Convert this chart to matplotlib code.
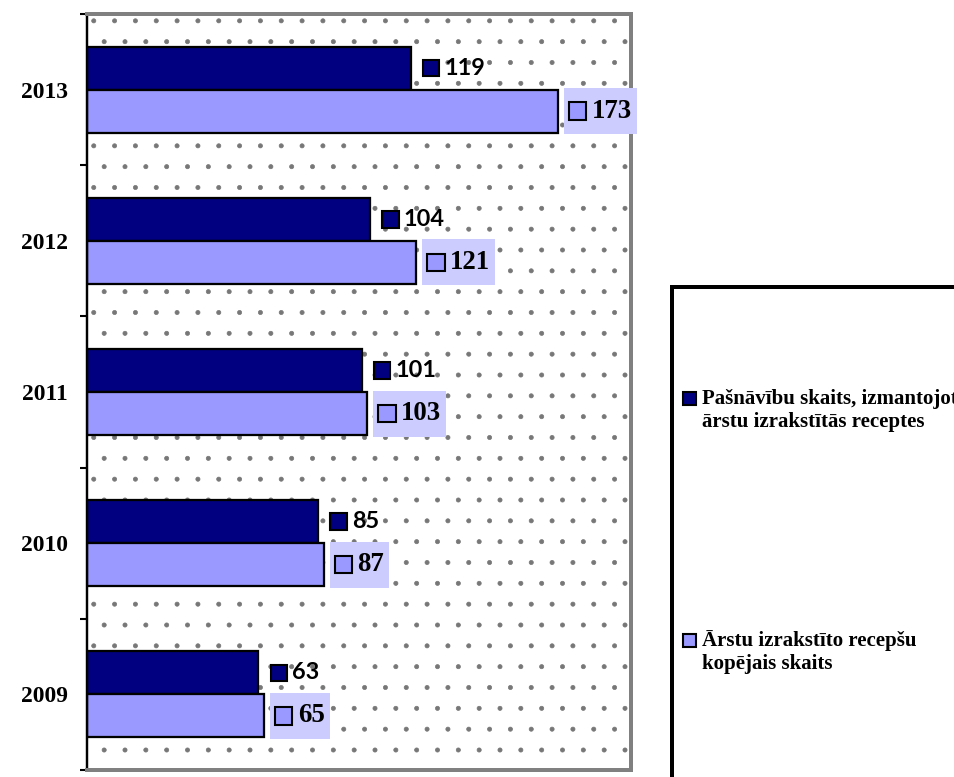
import numpy as np
import matplotlib
matplotlib.use('Agg')
import matplotlib.pyplot as plt
from matplotlib.patches import Rectangle
from matplotlib.offsetbox import AnnotationBbox, HPacker, TextArea, DrawingArea

# dati
years = ['2009', '2010', '2011', '2012', '2013']
pasnavibas = [63, 85, 101, 104, 119]      # Pašnāvību skaits, izmantojot ārstu izrakstītās receptes
receptes = [65, 87, 103, 121, 173]        # Ārstu izrakstīto recepšu kopējais skaits
series_names = ['Pašnāvību skaits, izmantojot\nārstu izrakstītās receptes',
                'Ārstu izrakstīto recepšu\nkopējais skaits']

dark = '#000080'
light = '#9999FF'
box_bg = '#CCCCFF'
serif = 'Liberation Serif'
sans = 'Lato'

plt.rcParams['hatch.linewidth'] = 0.4

DPI = 125
W, H = 954, 777
fig = plt.figure(figsize=(W / DPI, H / DPI), dpi=DPI)
fig.patch.set_facecolor('white')
ax = fig.add_axes([87 / W, 7 / H, 544 / W, 756 / H])

# punktētais fons
ax.add_patch(Rectangle((0, 0), 1, 1, transform=ax.transAxes, facecolor='white',
                       edgecolor='#777777', lw=0, hatch='.', zorder=0))

y = np.arange(len(years))
h = 0.285
ax.barh(y + h / 2, pasnavibas, height=h, color=dark, edgecolor='black', linewidth=1.3, zorder=2)
ax.barh(y - h / 2, receptes, height=h, color=light, edgecolor='black', linewidth=1.3, zorder=2)

ax.set_xlim(0, 200)
ax.set_ylim(-0.5, len(years) - 0.5)
ax.set_xticks([])
ax.set_yticks(y)
ax.set_yticklabels(years, fontfamily=serif, fontweight='bold', fontsize=13.5)
ax.set_yticks(np.arange(-0.5, len(years), 1), minor=True)
ax.tick_params(axis='y', which='major', length=0, pad=11)
ax.tick_params(axis='y', which='minor', length=4, width=1.2, direction='out', color='black')

ax.spines['left'].set_color('black')
ax.spines['left'].set_linewidth(1.4)
for s in ['top', 'right', 'bottom']:
    ax.spines[s].set_color('#808080')
    ax.spines[s].set_linewidth(2.3)


def add_label(val, ypos, face, family, size, sq, offset, bg=None, box_h=None):
    box_h = box_h or sq
    da = DrawingArea(sq, box_h, 0, 0)
    da.add_artist(Rectangle((0, (box_h - sq) / 2), sq, sq, facecolor=face, edgecolor='black', lw=1.2))
    ta = TextArea(str(val), textprops=dict(fontfamily=family, fontweight='bold', fontsize=size))
    pack = HPacker(children=[da, ta], align='center', pad=3, sep=3)
    ab = AnnotationBbox(pack, (val, ypos), xybox=(offset, 0), xycoords='data',
                        boxcoords='offset points', box_alignment=(0, 0.5),
                        frameon=bg is not None, pad=0,
                        bboxprops=dict(facecolor=bg if bg else 'none', edgecolor='none'),
                        annotation_clip=False, zorder=4)
    ax.add_artist(ab)


for i in range(len(years)):
    add_label(pasnavibas[i], y[i] + h / 2, dark, sans, 13.5, 9.5, 4)
    add_label(receptes[i], y[i] - h / 2, light, serif, 15.5, 10, 3.5, bg=box_bg, box_h=20.5)

# leģenda
fig.patches.append(Rectangle((672 / W, -0.05), 0.5, (H - 287) / H + 0.05,
                             transform=fig.transFigure, facecolor='white',
                             edgecolor='black', lw=2.3, zorder=1))
leg_y = [398, 640]
for name, col, ly in zip(series_names, [dark, light], leg_y):
    fig.patches.append(Rectangle((683 / W, 1 - (ly + 6.5) / H), 13 / W, 13 / H,
                                 transform=fig.transFigure, facecolor=col,
                                 edgecolor='black', lw=1.2, zorder=2))
    fig.text(702 / W, 1 - (ly + 12.5) / H, name, fontfamily=serif, fontweight='bold',
             fontsize=12, va='center', ha='left', linespacing=1.2, zorder=3)

fig.savefig('out.png', dpi=DPI)
